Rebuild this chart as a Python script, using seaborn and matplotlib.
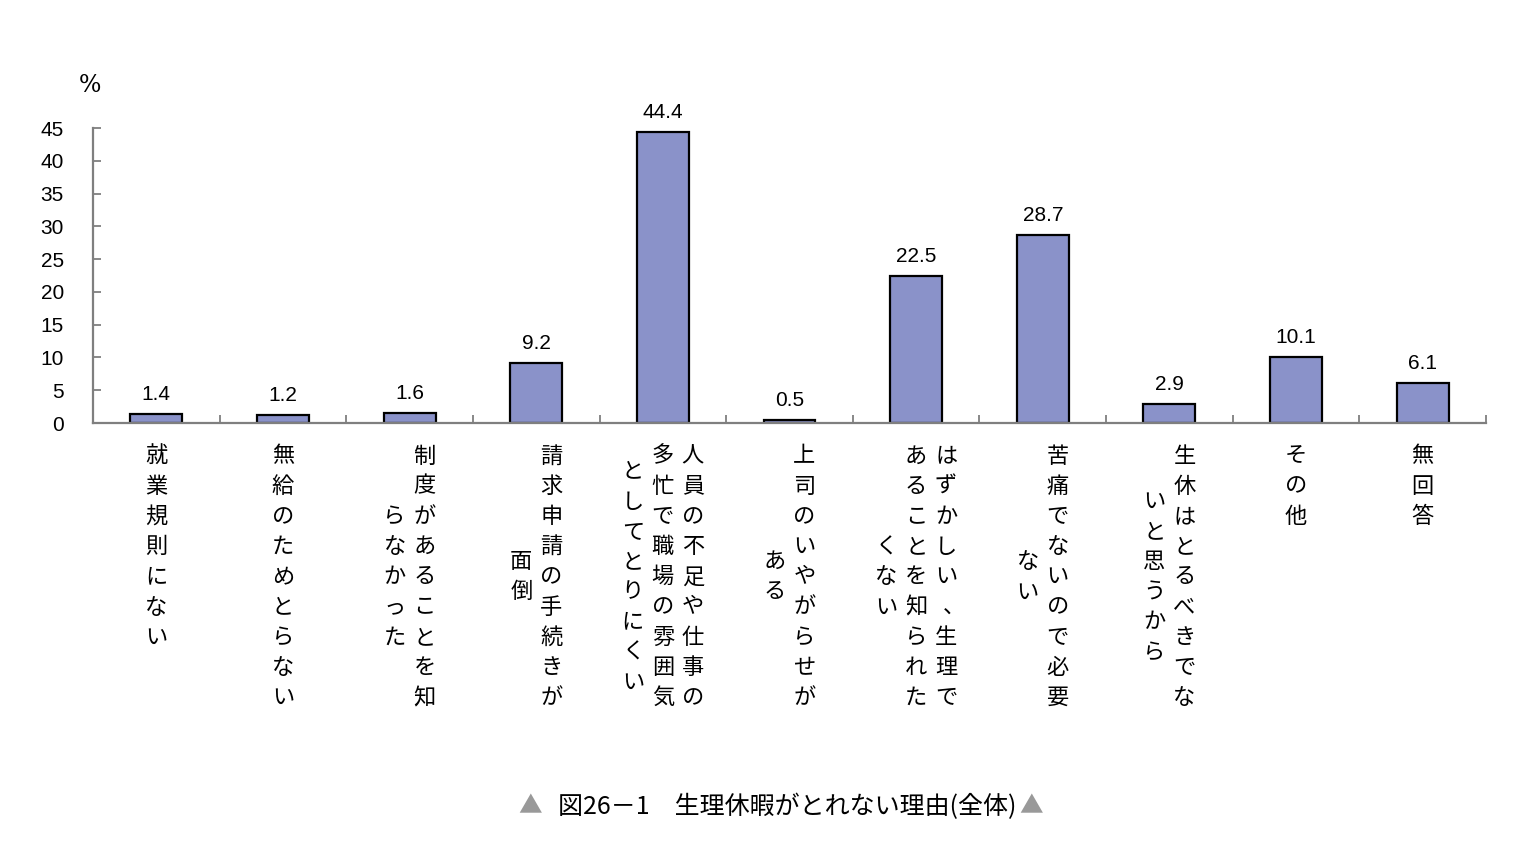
import numpy as np
import pandas as pd
import matplotlib
matplotlib.use("Agg")
import matplotlib.pyplot as plt
import seaborn as sns

# ---- data ----
categories = [
    "就業規則にない",
    "無給のためとらない",
    "制度があることを知らなかった",
    "請求申請の手続きが面倒",
    "人員の不足や仕事の多忙で職場の雰囲気としてとりにくい",
    "上司のいやがらせがある",
    "はずかしい、生理であることを知られたくない",
    "苦痛でないので必要ない",
    "生休はとるべきでないと思うから",
    "その他",
    "無回答",
]
label_columns = [
    ["就業規則にない"],
    ["無給のためとらない"],
    ["制度があることを知", "らなかった"],
    ["請求申請の手続きが", "面倒"],
    ["人員の不足や仕事の", "多忙で職場の雰囲気", "としてとりにくい"],
    ["上司のいやがらせが", "ある"],
    ["はずかしい、生理で", "あることを知られた", "くない"],
    ["苦痛でないので必要", "ない"],
    ["生休はとるべきでな", "いと思うから"],
    ["その他"],
    ["無回答"],
]
values = [1.4, 1.2, 1.6, 9.2, 44.4, 0.5, 22.5, 28.7, 2.9, 10.1, 6.1]
yticks = [0, 5, 10, 15, 20, 25, 30, 35, 40, 45]
title_text = "図26－1　生理休暇がとれない理由(全体)"

df = pd.DataFrame({"category": categories, "value": values})

sns.set_theme(style="white")
plt.rcParams["font.family"] = ["Liberation Sans", "Noto Sans CJK JP", "DejaVu Sans"]

CJK = ["Noto Sans CJK JP", "DejaVu Sans"]
AXIS_GRAY = "#7f7f7f"

fig = plt.figure(figsize=(15.2, 8.44), dpi=100)
ax = fig.add_axes([93 / 1520, 1 - 423 / 844, (1486 - 93) / 1520, (423 - 128) / 844])

sns.barplot(data=df, x="category", y="value", ax=ax, color="#8A92C9",
            saturation=1, width=0.41, edgecolor="black", linewidth=1.6)

ax.set_xlim(-0.5, len(categories) - 0.5)
ax.set_ylim(0, 45)
ax.set_yticks(yticks)
ax.set_yticklabels([str(t) for t in yticks], fontsize=15, color="black")
ax.set_xticks(np.arange(len(categories)) + 0.5)
ax.set_xticklabels([])
ax.set_xlabel("")
ax.set_ylabel("")

for s in ["top", "right"]:
    ax.spines[s].set_visible(False)
for s in ["left", "bottom"]:
    ax.spines[s].set_color(AXIS_GRAY)
    ax.spines[s].set_linewidth(1.6)

ax.tick_params(axis="y", direction="in", length=6, width=1.3, color=AXIS_GRAY, pad=21, left=True)
ax.tick_params(axis="x", direction="in", length=6, width=1.3, color=AXIS_GRAY, bottom=True)

# value labels
for cont in ax.containers:
    ax.bar_label(cont, fmt="%.1f", padding=7, fontsize=15, color="black")

# vertical category labels (columns right-to-left, centered relative to each other)
COL = 30   # px
ROW = 30.2  # px
TOP = 33   # px below axis for first row center
for i, cols in enumerate(label_columns):
    ncol = len(cols)
    maxlen = max(len(c) for c in cols)
    for j, col in enumerate(cols):
        dx = ((ncol - 1) / 2 - j) * COL
        start = (maxlen - len(col)) / 2 if ncol > 1 else 0
        for k, ch in enumerate(col):
            dy = -(TOP + (start + k) * ROW)
            extra = 8 if ch in "、。" else 0
            ax.annotate(ch, xy=(i, 0), xycoords="data",
                        xytext=(dx + extra, dy), textcoords="offset pixels",
                        ha="center", va="center", fontsize=16,
                        family=CJK, color="black", annotation_clip=False)

# percent sign
fig.text(90 / 1520, 1 - 85 / 844, "%", ha="center", va="center",
         fontsize=17, family=["DejaVu Serif"], color="black")

# title with gray triangles
t = fig.text(558 / 1520, 1 - 807 / 844, title_text, ha="left", va="center",
             fontsize=18, family=CJK, color="black")
fig.text(530 / 1520, 1 - 807 / 844, "▲", ha="center", va="center",
         fontsize=17, family=CJK, color="#999999")
ax.annotate("▲", xy=(1, 0.5), xycoords=t, xytext=(3, 0), textcoords="offset pixels",
            ha="left", va="center", fontsize=17, family=CJK, color="#999999",
            annotation_clip=False)

fig.savefig("out.png", dpi=100, facecolor="white")
